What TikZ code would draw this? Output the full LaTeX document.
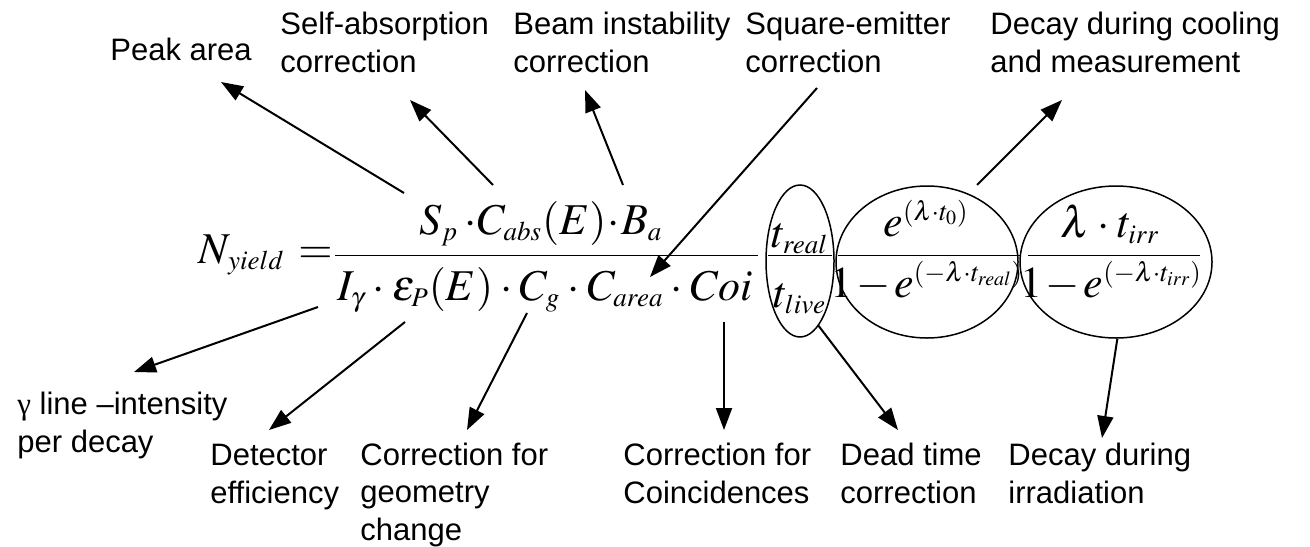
\documentclass[tikz,border=0pt]{standalone}
\usepackage{mathptmx}
\usepackage[no-math]{fontspec}
\setmainfont{Liberation Sans}
\newfontfamily\symfont{Liberation Serif}
\usetikzlibrary{arrows.meta,shapes.geometric}

% smaller indices, as in the printed formula
\DeclareMathSizes{22}{22}{13.5}{10}
% tight product dot and minus
\newcommand{\md}{\mkern3mu{\cdot}\mkern3mu}
\newcommand{\mdt}{\mkern0.5mu{\cdot}\mkern0.5mu}
\newcommand{\mm}{\mkern1.5mu{-}\mkern1.5mu}

\tikzset{
  lbl/.style={font=\fontsize{15.5}{18.75}\selectfont, align=left, anchor=base west, inner sep=0pt},
  eqn/.style={font=\fontsize{22}{26}\selectfont, inner sep=0pt, anchor=base},
  ring/.style={draw, ellipse, line width=0.75pt, inner sep=0pt, minimum height=76pt},
  ptr/.style={-{Triangle[length=11pt,width=8pt]}, line width=1pt},
  bar/.style={line width=0.5pt}
}

\begin{document}
\begin{tikzpicture}[x=0.5pt,y=-0.5pt]
  \useasboundingbox (0,0) rectangle (1310,546);
  % yield formula
  \node[eqn,anchor=base west] (nyield) at (198,263) {$N_{\mkern1mu yield}$};
  \node[eqn,anchor=base west] (eqsign) at (298,263) {$=$};
  \draw[bar] (335,255) -- (758,255);
  \node[eqn] (numer) at (541,234) {$S_p\mkern2mu\mdt C_{abs}(E)\mdt B_a$};
  \node[eqn] (denom) at (545,300) {$I_\gamma\md\varepsilon_P(E)\md C_g\md C_{area}\md Coi$};
  % live time ratio
  \draw[bar] (768,255) -- (832,255);
  \node[eqn] (treal) at (800,247) {$t_{real}$};
  \node[eqn] (tlive) at (800,307) {$t_{live}$};
  % cooling and measurement
  \draw[bar] (838,255) -- (1020,255);
  \node[eqn] (coolnum) at (926,236) {$e^{(\lambda\cdot t_0)}$};
  \node[eqn] (coolden) at (927,297) {$1\mm e^{(-\lambda\cdot t_{real})}$};
  % irradiation
  \draw[bar] (1028,255) -- (1200,255);
  \node[eqn] (irrnum) at (1110,237) {$\lambda\md t_{irr}$};
  \node[eqn] (irrden) at (1111,297) {$1\mm e^{(-\lambda\cdot t_{irr})}$};
  % rings
  \node[ring,minimum width=34pt] (lvfrac) at (800,261) {};
  \node[ring,minimum width=91pt] (coolfrac) at (927,262) {};
  \node[ring,minimum width=96pt] (irrfrac) at (1116,262) {};

  % labels above (base = last line)
  \node[lbl] (peak) at (110,60) {Peak area};
  \node[lbl] (selfabs) at (280,72) {Self-absorption\\correction};
  \node[lbl] (beam) at (513,72) {Beam instability\\correction};
  \node[lbl] (square) at (745,72) {Square-emitter\\correction};
  \node[lbl] (cooling) at (990,72) {Decay during cooling\\and measurement};
  % labels below
  \node[lbl] (gammaint) at (17,452) {{\symfont γ} line –intensity\\per decay};
  \node[lbl] (deteff) at (210,503) {Detector\\efficiency};
  \node[lbl] (geom) at (360,540) {Correction for\\geometry\\change};
  \node[lbl] (coinc) at (623,503) {Correction for\\Coincidences};
  \node[lbl] (deadt) at (840,503) {Dead time\\correction};
  \node[lbl] (irrad) at (1008,503) {Decay during\\irradiation};

  % arrow ends
  \coordinate (peak-a) at (404,193);  \coordinate (peak-b) at (221,82);
  \coordinate (abs-a) at (493,185);   \coordinate (abs-b) at (410,100);
  \coordinate (beam-a) at (623,185);  \coordinate (beam-b) at (585,90);
  \coordinate (sq-a) at (817,88);     \coordinate (sq-b) at (650,277);
  \coordinate (cool-a) at (977,185);  \coordinate (cool-b) at (1062,100);
  \coordinate (gam-a) at (318,307);   \coordinate (gam-b) at (134,372);
  \coordinate (det-a) at (405,322);   \coordinate (det-b) at (269,430);
  \coordinate (geo-a) at (527,313);   \coordinate (geo-b) at (467,430);
  \coordinate (coi-a) at (724,322);   \coordinate (coi-b) at (724,430);
  \coordinate (dead-b) at (898,430);
  \coordinate (irr-b) at (1102,438);

  \draw[ptr] (peak-a) -- (peak-b);
  \draw[ptr] (abs-a) -- (abs-b);
  \draw[ptr] (beam-a) -- (beam-b);
  \draw[ptr] (sq-a) -- (sq-b);
  \draw[ptr] (cool-a) -- (cool-b);
  \draw[ptr] (gam-a) -- (gam-b);
  \draw[ptr] (det-a) -- (det-b);
  \draw[ptr] (geo-a) -- (geo-b);
  \draw[ptr] (coi-a) -- (coi-b);
  \draw[ptr] (lvfrac.-74) -- (dead-b);
  \draw[ptr] (irrfrac.-89) -- (irr-b);
\end{tikzpicture}
\end{document}
